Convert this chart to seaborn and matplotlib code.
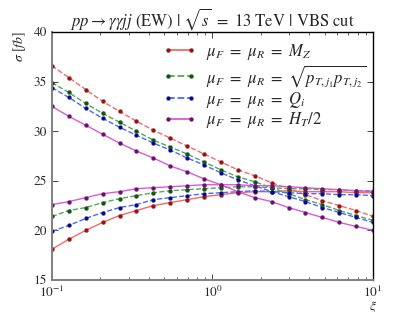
import numpy as np
import pandas as pd
import matplotlib
matplotlib.use('Agg')
import matplotlib.pyplot as plt
import seaborn as sns

# ── data ────────────────────────────────────────────────────
xi = [0.1, 0.1274, 0.1624, 0.2069, 0.2637, 0.3360, 0.4281, 0.5456, 0.6952, 0.8859,
      1.1288, 1.4384, 1.8330, 2.3357, 2.9764, 3.7927, 4.8329, 6.1585, 7.8476, 10.0]

mz_up   = [36.6, 35.4, 34.2, 33.0, 32.0, 31.0, 30.1, 29.3, 28.5, 27.7,
           26.9, 26.1, 25.5, 24.8, 24.2, 23.6, 23.0, 22.5, 22.0, 21.4]
mz_low  = [18.1, 19.1, 20.0, 20.8, 21.5, 22.0, 22.5, 22.8, 23.1, 23.4,
           23.6, 23.8, 23.9, 23.9, 24.0, 23.9, 23.9, 23.9, 23.8, 23.8]
pt_up   = [34.9, 33.9, 32.8, 31.8, 30.9, 30.0, 29.1, 28.4, 27.7, 26.9,
           26.1, 25.4, 24.9, 24.3, 23.7, 23.1, 22.6, 22.0, 21.5, 21.0]
pt_low  = [21.4, 22.0, 22.3, 22.8, 23.2, 23.5, 23.8, 24.0, 24.1, 24.2,
           24.3, 24.4, 24.4, 24.3, 24.2, 24.2, 24.1, 24.1, 24.0, 24.0]
qi_up   = [34.4, 33.4, 32.3, 31.3, 30.4, 29.6, 28.8, 28.1, 27.3, 26.6,
           25.8, 25.1, 24.5, 23.9, 23.4, 22.9, 22.3, 21.8, 21.3, 20.8]
qi_low  = [19.9, 20.5, 21.2, 21.8, 22.3, 22.6, 23.1, 23.3, 23.5, 23.7,
           23.8, 23.9, 24.0, 23.9, 23.8, 23.7, 23.7, 23.6, 23.6, 23.5]
ht_up   = [32.5, 31.5, 30.6, 29.7, 28.8, 28.0, 27.3, 26.5, 25.9, 25.2,
           24.6, 23.9, 23.3, 22.9, 22.3, 21.8, 21.3, 20.8, 20.4, 20.0]
ht_low  = [22.6, 22.9, 23.3, 23.7, 23.9, 24.2, 24.3, 24.4, 24.5, 24.6,
           24.6, 24.6, 24.5, 24.5, 24.4, 24.3, 24.2, 24.1, 24.0, 23.9]

labels = [r'$\mu_F\ =\ \mu_R\ =\ M_Z$',
          r'$\mu_F\ =\ \mu_R\ =\ \sqrt{p_{T,j_1}p_{T,j_2}}$',
          r'$\mu_F\ =\ \mu_R\ =\ Q_i$',
          r'$\mu_F\ =\ \mu_R\ =\ H_T/2$']

sns.set_style('ticks')
plt.rcParams.update({
    'font.family': ['STIXGeneral', 'DejaVu Serif'],
    'mathtext.fontset': 'stix',
    'xtick.direction': 'in',
    'ytick.direction': 'in',
    'xtick.top': True,
    'ytick.right': True,
    'font.size': 8,
})

fig = plt.figure(figsize=(4.15, 3.12), dpi=100)
ax = fig.add_axes([0.125, 0.1026, 0.774, 0.7949])

# (upper curve, lower curve, line colour, marker colour, upper ls, lower ls)
series = [
    (mz_up, mz_low, '#f26a6a', '#c00000', '--', '-'),
    (pt_up, pt_low, '#55a855', '#006000', '--', '--'),
    (qi_up, qi_low, '#4a68ff', '#0000b0', '--', '--'),
    (ht_up, ht_low, '#d85ad8', '#800080', '-', '-'),
]

handles = []
for up, low, lc, mc, ls_up, ls_low in series:
    df = pd.DataFrame({'xi': xi, 'up': up, 'low': low})
    sns.lineplot(data=df, x='xi', y='up', ax=ax, color=lc, linestyle=ls_up, lw=1.0,
                 marker='o', ms=2.8, mfc=mc, mec='#404040', mew=0.3)
    sns.lineplot(data=df, x='xi', y='low', ax=ax, color=lc, linestyle=ls_low, lw=1.0,
                 marker='o', ms=2.8, mfc=mc, mec='#404040', mew=0.3)
    h, = ax.plot([], [], color=lc, linestyle=ls_low, lw=1.3,
                 marker='o', ms=2.8, mfc=mc, mec='#404040', mew=0.3)
    handles.append(h)

ax.set_xscale('log')
ax.set_xlim(0.1, 10)
ax.set_ylim(15, 40)
ax.set_yticks([15, 20, 25, 30, 35, 40])
ax.tick_params(which='major', length=4, width=0.6, labelsize=9.5)
ax.tick_params(which='minor', length=2, width=0.5)

for side in ['left', 'bottom']:
    ax.spines[side].set_color('#808080')
    ax.spines[side].set_linewidth(1.4)
for side in ['top', 'right']:
    ax.spines[side].set_color('black')
    ax.spines[side].set_linewidth(1.0)

ax.set_title(r'$pp \rightarrow \gamma\gamma jj$ (EW) $|$ $\sqrt{s}\ =\ 13$ TeV $|$ VBS cut',
             fontsize=12, pad=2)
ax.set_ylabel(r'$\sigma\ [fb]$', fontsize=10)
ax.yaxis.set_label_coords(-0.075, 0.94)
ax.set_xlabel(r'$\xi$', fontsize=9.5)
ax.xaxis.set_label_coords(1.0, -0.078)

ax.legend(handles, labels, loc='upper right', frameon=False, numpoints=2,
          fontsize=12, handlelength=2.0, handletextpad=0.6, labelspacing=0.05,
          borderaxespad=0.2, bbox_to_anchor=(1.01, 1.0))

fig.savefig('out.png', dpi=100)
